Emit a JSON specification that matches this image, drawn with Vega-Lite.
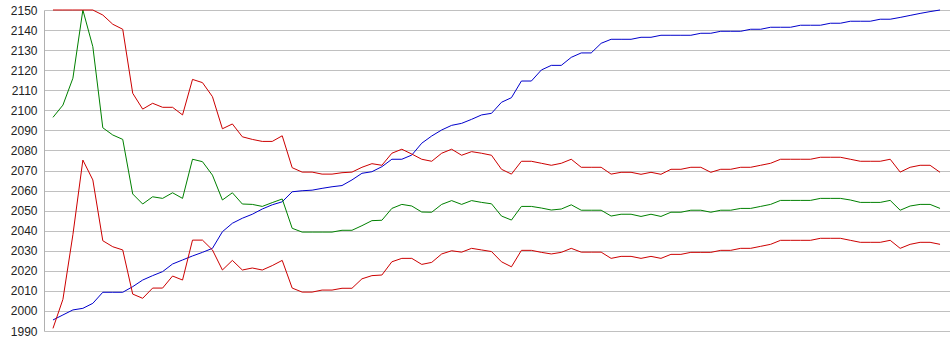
{
  "$schema": "https://vega.github.io/schema/vega-lite/v6.json",
  "width": 906,
  "height": 321,
  "autosize": {"type": "none"},
  "padding": {"left": 44, "top": 10, "right": 0, "bottom": 24},
  "background": "white",
  "config": {"view": {"stroke": null}},
  "data": {"values": [
    {"i":0,"b":1995.5,"g":2096.5,"u":2150,"l":1991.3},
    {"i":1,"b":1998,"g":2102.6,"u":2150,"l":2005.8},
    {"i":2,"b":2000.5,"g":2116,"u":2150,"l":2038},
    {"i":3,"b":2001.3,"g":2150,"u":2150,"l":2075.2},
    {"i":4,"b":2003.8,"g":2131.7,"u":2150,"l":2065.3},
    {"i":5,"b":2009.3,"g":2091.3,"u":2147.5,"l":2035},
    {"i":6,"b":2009.3,"g":2087.7,"u":2142.9,"l":2032},
    {"i":7,"b":2009.3,"g":2085.5,"u":2140.4,"l":2030.4},
    {"i":8,"b":2012.1,"g":2058.3,"u":2108.5,"l":2008.4},
    {"i":9,"b":2015.4,"g":2053.3,"u":2100.6,"l":2006.3},
    {"i":10,"b":2017.6,"g":2056.9,"u":2103.5,"l":2011.4},
    {"i":11,"b":2019.6,"g":2056.1,"u":2101.5,"l":2011.4},
    {"i":12,"b":2023.4,"g":2058.9,"u":2101.5,"l":2017.4},
    {"i":13,"b":2025.4,"g":2056.1,"u":2097.7,"l":2015.4},
    {"i":14,"b":2027.4,"g":2075.6,"u":2115.4,"l":2035.3},
    {"i":15,"b":2029.2,"g":2074.4,"u":2113.8,"l":2035.3},
    {"i":16,"b":2031.2,"g":2067.7,"u":2106.8,"l":2030.4},
    {"i":17,"b":2039.5,"g":2055.3,"u":2090.8,"l":2020.4},
    {"i":18,"b":2043.7,"g":2058.9,"u":2093.2,"l":2025.2},
    {"i":19,"b":2046.2,"g":2053.3,"u":2086.8,"l":2020.4},
    {"i":20,"b":2048.2,"g":2053.1,"u":2085.5,"l":2021.4},
    {"i":21,"b":2050.8,"g":2052.1,"u":2084.5,"l":2020.4},
    {"i":22,"b":2052.9,"g":2054,"u":2084.5,"l":2022.6},
    {"i":23,"b":2054.4,"g":2055.8,"u":2087.3,"l":2025.2},
    {"i":24,"b":2059.4,"g":2041.2,"u":2071.4,"l":2011.4},
    {"i":25,"b":2059.9,"g":2039.3,"u":2069.2,"l":2009.4},
    {"i":26,"b":2060.2,"g":2039.3,"u":2069.2,"l":2009.4},
    {"i":27,"b":2061.1,"g":2039.3,"u":2068.2,"l":2010.4},
    {"i":28,"b":2061.9,"g":2039.3,"u":2068.2,"l":2010.4},
    {"i":29,"b":2062.5,"g":2040.2,"u":2068.9,"l":2011.3},
    {"i":30,"b":2065.3,"g":2040.2,"u":2069.2,"l":2011.3},
    {"i":31,"b":2068.6,"g":2042.5,"u":2071.6,"l":2016},
    {"i":32,"b":2069.4,"g":2045,"u":2073.4,"l":2017.6},
    {"i":33,"b":2071.9,"g":2045.2,"u":2072.6,"l":2017.9},
    {"i":34,"b":2075.6,"g":2051.1,"u":2078.6,"l":2024.5},
    {"i":35,"b":2075.6,"g":2053.1,"u":2080.6,"l":2026.2},
    {"i":36,"b":2077.7,"g":2052.3,"u":2078.2,"l":2026.2},
    {"i":37,"b":2083.6,"g":2049.3,"u":2075.6,"l":2023.2},
    {"i":38,"b":2087.2,"g":2049.2,"u":2074.6,"l":2024.2},
    {"i":39,"b":2090.2,"g":2053.1,"u":2078.6,"l":2028.4},
    {"i":40,"b":2092.5,"g":2055,"u":2080.6,"l":2030},
    {"i":41,"b":2093.5,"g":2053.1,"u":2077.6,"l":2029.3},
    {"i":42,"b":2095.5,"g":2055,"u":2079.4,"l":2031.2},
    {"i":43,"b":2097.7,"g":2054.1,"u":2078.6,"l":2030.4},
    {"i":44,"b":2098.5,"g":2053.4,"u":2077.6,"l":2029.6},
    {"i":45,"b":2104,"g":2047.3,"u":2070.6,"l":2024.5},
    {"i":46,"b":2106.3,"g":2045.3,"u":2068.2,"l":2022},
    {"i":47,"b":2114.6,"g":2052.1,"u":2074.6,"l":2030.2},
    {"i":48,"b":2114.6,"g":2052.1,"u":2074.6,"l":2030.2},
    {"i":49,"b":2120.1,"g":2051.3,"u":2073.6,"l":2029.2},
    {"i":50,"b":2122.4,"g":2050.3,"u":2072.6,"l":2028.4},
    {"i":51,"b":2122.4,"g":2050.8,"u":2073.6,"l":2029.2},
    {"i":52,"b":2126.4,"g":2052.9,"u":2075.6,"l":2031.2},
    {"i":53,"b":2128.6,"g":2050.2,"u":2071.6,"l":2029.3},
    {"i":54,"b":2128.6,"g":2050.2,"u":2071.6,"l":2029.3},
    {"i":55,"b":2133.4,"g":2050.2,"u":2071.6,"l":2029.3},
    {"i":56,"b":2135.4,"g":2047.3,"u":2068.2,"l":2026.2},
    {"i":57,"b":2135.4,"g":2048.2,"u":2069.1,"l":2027.2},
    {"i":58,"b":2135.4,"g":2048.2,"u":2069.1,"l":2027.2},
    {"i":59,"b":2136.4,"g":2047.1,"u":2068.1,"l":2026.2},
    {"i":60,"b":2136.4,"g":2048.2,"u":2069.1,"l":2027.2},
    {"i":61,"b":2137.4,"g":2047.1,"u":2068.1,"l":2026.2},
    {"i":62,"b":2137.4,"g":2049.2,"u":2070.6,"l":2028.2},
    {"i":63,"b":2137.4,"g":2049.2,"u":2070.6,"l":2028.2},
    {"i":64,"b":2137.4,"g":2050.2,"u":2071.6,"l":2029.2},
    {"i":65,"b":2138.4,"g":2050.2,"u":2071.6,"l":2029.2},
    {"i":66,"b":2138.4,"g":2049.2,"u":2069.1,"l":2029.2},
    {"i":67,"b":2139.4,"g":2050.2,"u":2070.6,"l":2030.2},
    {"i":68,"b":2139.4,"g":2050.2,"u":2070.6,"l":2030.2},
    {"i":69,"b":2139.4,"g":2051.1,"u":2071.6,"l":2031.2},
    {"i":70,"b":2140.4,"g":2051.1,"u":2071.6,"l":2031.2},
    {"i":71,"b":2140.4,"g":2052.1,"u":2072.6,"l":2032.2},
    {"i":72,"b":2141.4,"g":2053.1,"u":2073.6,"l":2033.2},
    {"i":73,"b":2141.4,"g":2055.1,"u":2075.6,"l":2035.2},
    {"i":74,"b":2141.4,"g":2055.1,"u":2075.6,"l":2035.2},
    {"i":75,"b":2142.4,"g":2055.1,"u":2075.6,"l":2035.2},
    {"i":76,"b":2142.4,"g":2055.1,"u":2075.6,"l":2035.2},
    {"i":77,"b":2142.4,"g":2056.1,"u":2076.6,"l":2036.2},
    {"i":78,"b":2143.4,"g":2056.1,"u":2076.6,"l":2036.2},
    {"i":79,"b":2143.4,"g":2056.1,"u":2076.6,"l":2036.2},
    {"i":80,"b":2144.4,"g":2055.3,"u":2075.6,"l":2035.2},
    {"i":81,"b":2144.4,"g":2054.1,"u":2074.6,"l":2034.2},
    {"i":82,"b":2144.4,"g":2054.1,"u":2074.6,"l":2034.2},
    {"i":83,"b":2145.4,"g":2054.1,"u":2074.6,"l":2034.2},
    {"i":84,"b":2145.4,"g":2055.1,"u":2075.6,"l":2035.2},
    {"i":85,"b":2146.3,"g":2050.2,"u":2069.2,"l":2031.2},
    {"i":86,"b":2147.3,"g":2052.3,"u":2071.6,"l":2033.2},
    {"i":87,"b":2148.3,"g":2053.1,"u":2072.6,"l":2034.2},
    {"i":88,"b":2149.2,"g":2053.1,"u":2072.6,"l":2034.2},
    {"i":89,"b":2150,"g":2051.1,"u":2069.1,"l":2033.2}
  ]},
  "encoding": {
    "x": {"field": "i", "type": "quantitative", "scale": {"domain": [-0.9, 90], "nice": false, "zero": false}, "axis": null}
  },
  "layer": [
    {
      "mark": {"type": "line", "color": "#0000cc", "strokeWidth": 1},
      "encoding": {
        "y": {"field": "b", "type": "quantitative",
          "scale": {"domain": [1990, 2150], "nice": false, "zero": false},
          "axis": {
            "title": null,
            "values": [1990,2000,2010,2020,2030,2040,2050,2060,2070,2080,2090,2100,2110,2120,2130,2140,2150],
            "tickCount": 40,
            "format": "d",
            "labelOverlap": false,
            "labelBound": false,
            "labelFlush": false,
            "grid": true, "gridColor": "#c0c0c0", "gridWidth": 1, "gridOpacity": 1,
            "domain": true, "domainColor": "#b0b0b0", "domainWidth": 1,
            "ticks": false, "labelPadding": 7,
            "labelFont": "Liberation Sans", "labelFontSize": 12, "labelColor": "#222222"
          }
        }
      }
    },
    {
      "mark": {"type": "line", "color": "#008000", "strokeWidth": 1},
      "encoding": {"y": {"field": "g", "type": "quantitative"}}
    },
    {
      "mark": {"type": "line", "color": "#cc0000", "strokeWidth": 1},
      "encoding": {"y": {"field": "u", "type": "quantitative"}}
    },
    {
      "mark": {"type": "line", "color": "#cc0000", "strokeWidth": 1},
      "encoding": {"y": {"field": "l", "type": "quantitative"}}
    }
  ]
}
